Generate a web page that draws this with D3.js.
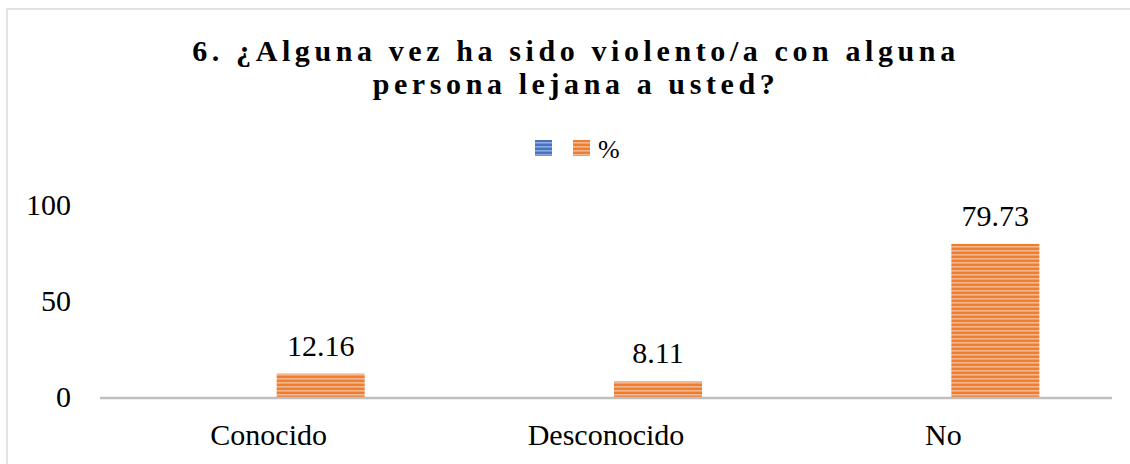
<!DOCTYPE html>
<html><head><meta charset="utf-8">
<script src="https://cdn.jsdelivr.net/npm/d3@7"></script>
<style>body{margin:0;background:#fff}svg{display:block}</style>
</head><body>
<script>
const categories = ["Conocido", "Desconocido", "No"];
const seriesNames = ["", "%"];
const series1 = [null, null, null];
const series2 = [12.16, 8.11, 79.73];
const yTicks = [0, 50, 100];
const titleLines = ["6. ¿Alguna vez ha sido violento/a con alguna", "persona lejana a usted?"];

const W = 1130, H = 464;
const svg = d3.select("body").append("svg").attr("width", W).attr("height", H);
const defs = svg.append("defs");
function stripes(id, base, light) {
  const p = defs.append("pattern").attr("id", id).attr("patternUnits", "userSpaceOnUse")
    .attr("width", 8).attr("height", 4);
  p.append("rect").attr("width", 8).attr("height", 4).attr("fill", base);
  p.append("rect").attr("y", 2).attr("width", 8).attr("height", 1.6).attr("fill", light);
}
stripes("pOrange", "#ED7D31", "#F6B78C");
stripes("pBlue", "#4472C4", "#8FAADC");

// border
svg.append("rect").attr("x", 7).attr("y", 9).attr("width", W).attr("height", H)
  .attr("fill", "none").attr("stroke", "#D9D9D9").attr("stroke-width", 1.5);

// title
const title = svg.append("text").attr("text-anchor", "middle")
  .attr("font-family", "Liberation Serif, Times New Roman, serif").attr("font-weight", "bold")
  .attr("font-size", 30).attr("letter-spacing", 4.6).attr("fill", "#000");
titleLines.forEach((t, i) => title.append("tspan").attr("x", 576).attr("y", 61 + i * 33).text(t));

// scales
const x = d3.scaleBand().domain(categories).range([100, 1112]).paddingInner(0).paddingOuter(0);
const y = d3.scaleLinear().domain([0, 100]).range([397, 205]);
const barW = 88;

// y axis labels
const yAxis = d3.axisLeft(y).tickValues(yTicks).tickSize(0).tickPadding(0);
const gy = svg.append("g").attr("transform", "translate(71,0)").call(yAxis);
gy.select(".domain").remove();
gy.selectAll("text").attr("font-family", "Liberation Serif, Times New Roman, serif")
  .attr("font-size", 30).attr("fill", "#000").attr("dy", "0.3em");

// bars
const g = svg.append("g");
const data2 = categories.map((c, i) => ({ c, v: series2[i] }));
g.selectAll("rect.s2").data(data2).enter().append("rect").attr("class", "s2")
  .attr("x", d => x(d.c) + x.bandwidth() / 2 + 8)
  .attr("width", barW)
  .attr("y", d => y(d.v)).attr("height", d => y(0) - y(d.v))
  .attr("fill", "url(#pOrange)");

// x axis line
svg.append("line").attr("x1", 100).attr("x2", 1112).attr("y1", y(0) + 1).attr("y2", y(0) + 1)
  .attr("stroke", "#BFBFBF").attr("stroke-width", 2.5);

// data labels
g.selectAll("text.lab").data(data2).enter().append("text").attr("class", "lab")
  .attr("x", d => x(d.c) + x.bandwidth() / 2 + 8 + barW / 2)
  .attr("y", d => y(d.v) - 18)
  .attr("text-anchor", "middle").attr("font-family", "Liberation Serif, Times New Roman, serif")
  .attr("font-size", 30).attr("fill", "#000").text(d => d.v.toFixed(2));

// category labels
const xAxis = d3.axisBottom(x).tickSize(0).tickPadding(0);
const gx = svg.append("g").attr("transform", "translate(0,445)").call(xAxis);
gx.select(".domain").remove();
gx.selectAll("text").attr("font-family", "Liberation Serif, Times New Roman, serif")
  .attr("font-size", 30).attr("fill", "#000").attr("dy", 0);

// legend
const leg = svg.append("g");
leg.append("rect").attr("x", 535).attr("y", 140).attr("width", 17).attr("height", 16).attr("fill", "url(#pBlue)");
leg.append("rect").attr("x", 573).attr("y", 140).attr("width", 17).attr("height", 16).attr("fill", "url(#pOrange)");
leg.append("text").attr("x", 598).attr("y", 158).attr("font-family", "Liberation Serif, Times New Roman, serif")
  .attr("font-size", 26).attr("fill", "#000").text(seriesNames[1]);
</script>
</body></html>
